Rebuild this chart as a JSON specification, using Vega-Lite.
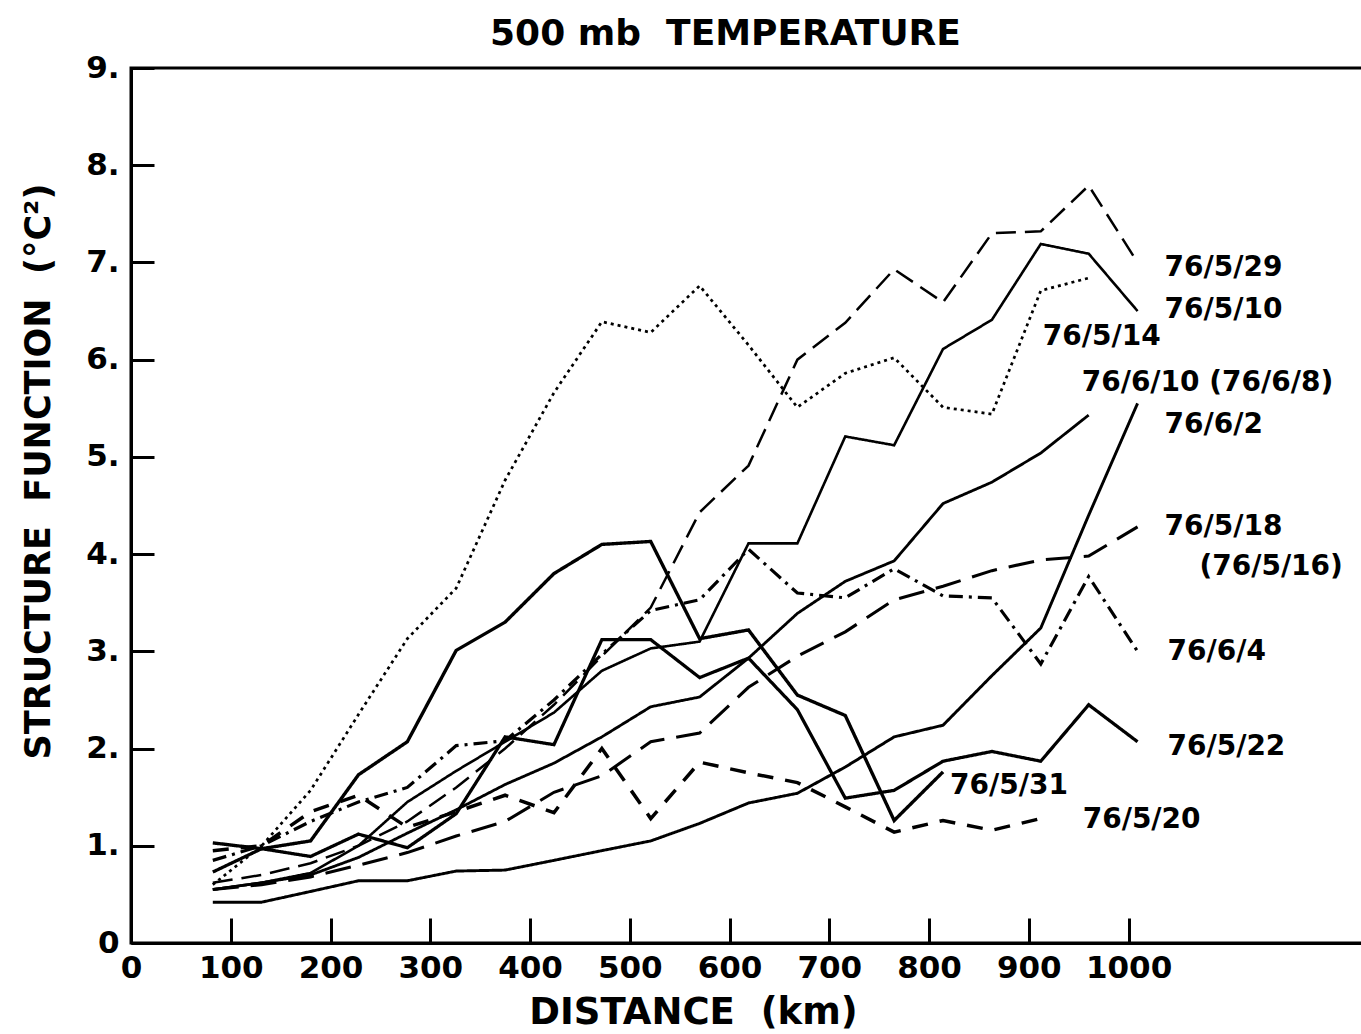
{
  "$schema": "https://vega.github.io/schema/vega-lite/v6.json",
  "autosize": {"type": "none"},
  "width": 1237,
  "height": 875,
  "padding": {"left": 131, "top": 68, "right": 0, "bottom": 91},
  "background": "white",
  "config": {"view": {"stroke": "black", "strokeWidth": 3}, "font": "DejaVu Sans"},
  "title": {"text": "500 mb\u00a0\u00a0TEMPERATURE", "fontSize": 36, "fontWeight": "bold", "color": "black", "offset": -1, "dx": -24, "anchor": "middle"},
  "datasets": {
    "curves": [
      {"s":"76/5/29","d":82,"v":0.62},{"s":"76/5/29","d":131,"v":0.7},{"s":"76/5/29","d":180,"v":0.82},{"s":"76/5/29","d":228,"v":1.0},{"s":"76/5/29","d":277,"v":1.25},{"s":"76/5/29","d":326,"v":1.6},{"s":"76/5/29","d":375,"v":2.0},{"s":"76/5/29","d":424,"v":2.45},{"s":"76/5/29","d":472,"v":2.95},{"s":"76/5/29","d":521,"v":3.45},{"s":"76/5/29","d":570,"v":4.43},{"s":"76/5/29","d":619,"v":4.91},{"s":"76/5/29","d":668,"v":6.0},{"s":"76/5/29","d":716,"v":6.38},{"s":"76/5/29","d":765,"v":6.93},{"s":"76/5/29","d":814,"v":6.59},{"s":"76/5/29","d":863,"v":7.3},{"s":"76/5/29","d":912,"v":7.32},{"s":"76/5/29","d":960,"v":7.79},{"s":"76/5/29","d":1009,"v":7.0},

      {"s":"76/5/10","d":82,"v":0.55},{"s":"76/5/10","d":131,"v":0.62},{"s":"76/5/10","d":180,"v":0.72},{"s":"76/5/10","d":228,"v":1.0},{"s":"76/5/10","d":277,"v":1.45},{"s":"76/5/10","d":326,"v":1.77},{"s":"76/5/10","d":375,"v":2.07},{"s":"76/5/10","d":424,"v":2.37},{"s":"76/5/10","d":472,"v":2.8},{"s":"76/5/10","d":521,"v":3.03},{"s":"76/5/10","d":570,"v":3.1},{"s":"76/5/10","d":619,"v":4.11},{"s":"76/5/10","d":668,"v":4.11},{"s":"76/5/10","d":716,"v":5.21},{"s":"76/5/10","d":765,"v":5.12},{"s":"76/5/10","d":814,"v":6.11},{"s":"76/5/10","d":863,"v":6.41},{"s":"76/5/10","d":912,"v":7.19},{"s":"76/5/10","d":960,"v":7.09},{"s":"76/5/10","d":1009,"v":6.5},

      {"s":"76/5/14","d":82,"v":0.6},{"s":"76/5/14","d":131,"v":1.0},{"s":"76/5/14","d":180,"v":1.57},{"s":"76/5/14","d":228,"v":2.35},{"s":"76/5/14","d":277,"v":3.13},{"s":"76/5/14","d":326,"v":3.65},{"s":"76/5/14","d":375,"v":4.76},{"s":"76/5/14","d":424,"v":5.66},{"s":"76/5/14","d":472,"v":6.39},{"s":"76/5/14","d":521,"v":6.28},{"s":"76/5/14","d":570,"v":6.76},{"s":"76/5/14","d":619,"v":6.15},{"s":"76/5/14","d":668,"v":5.51},{"s":"76/5/14","d":716,"v":5.86},{"s":"76/5/14","d":765,"v":6.02},{"s":"76/5/14","d":814,"v":5.51},{"s":"76/5/14","d":863,"v":5.44},{"s":"76/5/14","d":912,"v":6.71},{"s":"76/5/14","d":960,"v":6.84},

      {"s":"76/6/10","d":82,"v":0.55},{"s":"76/6/10","d":131,"v":0.62},{"s":"76/6/10","d":180,"v":0.7},{"s":"76/6/10","d":228,"v":0.88},{"s":"76/6/10","d":277,"v":1.13},{"s":"76/6/10","d":326,"v":1.37},{"s":"76/6/10","d":375,"v":1.63},{"s":"76/6/10","d":424,"v":1.85},{"s":"76/6/10","d":472,"v":2.12},{"s":"76/6/10","d":521,"v":2.43},{"s":"76/6/10","d":570,"v":2.53},{"s":"76/6/10","d":619,"v":2.93},{"s":"76/6/10","d":668,"v":3.39},{"s":"76/6/10","d":716,"v":3.72},{"s":"76/6/10","d":765,"v":3.93},{"s":"76/6/10","d":814,"v":4.52},{"s":"76/6/10","d":863,"v":4.74},{"s":"76/6/10","d":912,"v":5.04},{"s":"76/6/10","d":960,"v":5.43},

      {"s":"76/6/2","d":82,"v":0.42},{"s":"76/6/2","d":131,"v":0.42},{"s":"76/6/2","d":180,"v":0.53},{"s":"76/6/2","d":228,"v":0.64},{"s":"76/6/2","d":277,"v":0.64},{"s":"76/6/2","d":326,"v":0.74},{"s":"76/6/2","d":375,"v":0.75},{"s":"76/6/2","d":424,"v":0.85},{"s":"76/6/2","d":472,"v":0.95},{"s":"76/6/2","d":521,"v":1.05},{"s":"76/6/2","d":570,"v":1.23},{"s":"76/6/2","d":619,"v":1.44},{"s":"76/6/2","d":668,"v":1.54},{"s":"76/6/2","d":716,"v":1.81},{"s":"76/6/2","d":765,"v":2.12},{"s":"76/6/2","d":814,"v":2.24},{"s":"76/6/2","d":863,"v":2.75},{"s":"76/6/2","d":912,"v":3.24},{"s":"76/6/2","d":960,"v":4.4},{"s":"76/6/2","d":1009,"v":5.55},

      {"s":"76/5/18","d":82,"v":0.55},{"s":"76/5/18","d":131,"v":0.6},{"s":"76/5/18","d":180,"v":0.68},{"s":"76/5/18","d":228,"v":0.8},{"s":"76/5/18","d":277,"v":0.93},{"s":"76/5/18","d":326,"v":1.1},{"s":"76/5/18","d":375,"v":1.25},{"s":"76/5/18","d":424,"v":1.55},{"s":"76/5/18","d":472,"v":1.72},{"s":"76/5/18","d":521,"v":2.07},{"s":"76/5/18","d":570,"v":2.16},{"s":"76/5/18","d":619,"v":2.63},{"s":"76/5/18","d":668,"v":2.95},{"s":"76/5/18","d":716,"v":3.2},{"s":"76/5/18","d":765,"v":3.53},{"s":"76/5/18","d":814,"v":3.67},{"s":"76/5/18","d":863,"v":3.83},{"s":"76/5/18","d":912,"v":3.94},{"s":"76/5/18","d":960,"v":3.98},{"s":"76/5/18","d":1009,"v":4.28},

      {"s":"76/6/4","d":82,"v":0.85},{"s":"76/6/4","d":131,"v":1.0},{"s":"76/6/4","d":180,"v":1.25},{"s":"76/6/4","d":228,"v":1.45},{"s":"76/6/4","d":277,"v":1.6},{"s":"76/6/4","d":326,"v":2.03},{"s":"76/6/4","d":375,"v":2.08},{"s":"76/6/4","d":424,"v":2.5},{"s":"76/6/4","d":472,"v":2.97},{"s":"76/6/4","d":521,"v":3.42},{"s":"76/6/4","d":570,"v":3.53},{"s":"76/6/4","d":619,"v":4.05},{"s":"76/6/4","d":668,"v":3.6},{"s":"76/6/4","d":716,"v":3.55},{"s":"76/6/4","d":765,"v":3.85},{"s":"76/6/4","d":814,"v":3.57},{"s":"76/6/4","d":863,"v":3.55},{"s":"76/6/4","d":912,"v":2.87},{"s":"76/6/4","d":960,"v":3.77},{"s":"76/6/4","d":1009,"v":3.0},

      {"s":"76/5/22","d":82,"v":0.73},{"s":"76/5/22","d":131,"v":0.97},{"s":"76/5/22","d":180,"v":0.89},{"s":"76/5/22","d":228,"v":1.12},{"s":"76/5/22","d":277,"v":0.98},{"s":"76/5/22","d":326,"v":1.33},{"s":"76/5/22","d":375,"v":2.12},{"s":"76/5/22","d":424,"v":2.04},{"s":"76/5/22","d":472,"v":3.12},{"s":"76/5/22","d":521,"v":3.12},{"s":"76/5/22","d":570,"v":2.73},{"s":"76/5/22","d":619,"v":2.93},{"s":"76/5/22","d":668,"v":2.4},{"s":"76/5/22","d":716,"v":1.49},{"s":"76/5/22","d":765,"v":1.57},{"s":"76/5/22","d":814,"v":1.87},{"s":"76/5/22","d":863,"v":1.97},{"s":"76/5/22","d":912,"v":1.87},{"s":"76/5/22","d":960,"v":2.45},{"s":"76/5/22","d":1009,"v":2.07},

      {"s":"76/5/31","d":82,"v":1.03},{"s":"76/5/31","d":131,"v":0.97},{"s":"76/5/31","d":180,"v":1.05},{"s":"76/5/31","d":228,"v":1.73},{"s":"76/5/31","d":277,"v":2.07},{"s":"76/5/31","d":326,"v":3.01},{"s":"76/5/31","d":375,"v":3.3},{"s":"76/5/31","d":424,"v":3.8},{"s":"76/5/31","d":472,"v":4.1},{"s":"76/5/31","d":521,"v":4.13},{"s":"76/5/31","d":570,"v":3.13},{"s":"76/5/31","d":619,"v":3.22},{"s":"76/5/31","d":668,"v":2.55},{"s":"76/5/31","d":716,"v":2.34},{"s":"76/5/31","d":765,"v":1.26},{"s":"76/5/31","d":814,"v":1.76},

      {"s":"76/5/20","d":82,"v":0.95},{"s":"76/5/20","d":131,"v":1.0},{"s":"76/5/20","d":180,"v":1.35},{"s":"76/5/20","d":228,"v":1.52},{"s":"76/5/20","d":277,"v":1.19},{"s":"76/5/20","d":326,"v":1.35},{"s":"76/5/20","d":375,"v":1.52},{"s":"76/5/20","d":424,"v":1.34},{"s":"76/5/20","d":472,"v":2.0},{"s":"76/5/20","d":521,"v":1.28},{"s":"76/5/20","d":570,"v":1.86},{"s":"76/5/20","d":619,"v":1.75},{"s":"76/5/20","d":668,"v":1.65},{"s":"76/5/20","d":716,"v":1.4},{"s":"76/5/20","d":765,"v":1.14},{"s":"76/5/20","d":814,"v":1.26},{"s":"76/5/20","d":863,"v":1.16},{"s":"76/5/20","d":912,"v":1.28}
    ],
    "labels": [
      {"t":"76/5/29","d":1036,"v":6.94},
      {"t":"76/5/10","d":1036,"v":6.51},
      {"t":"76/5/14","d":914,"v":6.23},
      {"t":"76/6/10 (76/6/8)","d":953,"v":5.76},
      {"t":"76/6/2","d":1036,"v":5.33},
      {"t":"76/5/18","d":1036,"v":4.28},
      {"t":"(76/5/16)","d":1071,"v":3.87},
      {"t":"76/6/4","d":1039,"v":2.99},
      {"t":"76/5/22","d":1039,"v":2.02},
      {"t":"76/5/31","d":821,"v":1.61},
      {"t":"76/5/20","d":954,"v":1.27}
    ]
  },
  "encoding": {
    "x": {"field": "d", "type": "quantitative",
      "scale": {"domain": [0, 1240], "nice": false, "zero": false},
      "axis": {"values": [0,100,200,300,400,500,600,700,800,900,1000], "grid": false,
        "domainColor": "black", "domainWidth": 3, "tickColor": "black", "tickWidth": 3, "tickSize": -25,
        "labelPadding": 35, "labelFontSize": 31, "labelColor": "black", "labelFontWeight": "bold", "labelFlush": false, "labelOverlap": false,
        "labelExpr": "'' + datum.value",
        "title": "DISTANCE\u00a0\u00a0(km)", "titleFontSize": 37, "titleFontWeight": "bold", "titleColor": "black",
        "titleX": 562, "titleY": 69, "titleBaseline": "middle", "titleAnchor": "middle"}},
    "y": {"field": "v", "type": "quantitative",
      "scale": {"domain": [0, 9], "nice": false},
      "axis": {"values": [0,1,2,3,4,5,6,7,8,9], "grid": false,
        "domainColor": "black", "domainWidth": 3, "tickColor": "black", "tickWidth": 3, "tickSize": -23,
        "labelPadding": 35, "labelFontSize": 31, "labelColor": "black", "labelFontWeight": "bold", "labelFlush": false, "labelOverlap": false,
        "labelExpr": "datum.value == 0 ? '0' : datum.value + '.'",
        "title": "STRUCTURE\u00a0\u00a0FUNCTION\u00a0\u00a0(\u00b0C\u00b2)", "titleFontSize": 35, "titleFontWeight": "bold", "titleColor": "black",
        "titleX": -93, "titleY": 403, "titleAngle": -90, "titleBaseline": "middle", "titleAnchor": "middle"}}
  },
  "layer": [
    {
      "data": {"name": "curves"},
      "mark": {"type": "line", "color": "black", "strokeJoin": "miter", "strokeCap": "butt"},
      "encoding": {
        "detail": {"field": "s", "type": "nominal"},
        "strokeDash": {"field": "s", "type": "nominal", "legend": null,
          "scale": {"domain": ["76/5/29","76/5/10","76/5/14","76/6/10","76/6/2","76/5/18","76/6/4","76/5/22","76/5/31","76/5/20"],
            "range": [[20,9],[1,0],[3,4],[1,0],[1,0],[26,12],[14,6,3,6],[1,0],[1,0],[16,12]]}},
        "strokeWidth": {"field": "s", "type": "nominal", "legend": null,
          "scale": {"domain": ["76/5/29","76/5/10","76/5/14","76/6/10","76/6/2","76/5/18","76/6/4","76/5/22","76/5/31","76/5/20"],
            "range": [2.5,3.5,3,3,1.6,3.5,1.6,6,1.6,1.6]}}
      }
    },
    {
      "data": {"name": "labels"},
      "mark": {"type": "text", "align": "left", "baseline": "middle", "fontSize": 28, "fontWeight": "bold", "color": "black", "font": "DejaVu Sans"},
      "encoding": {"text": {"field": "t", "type": "nominal"}}
    }
  ]
}
